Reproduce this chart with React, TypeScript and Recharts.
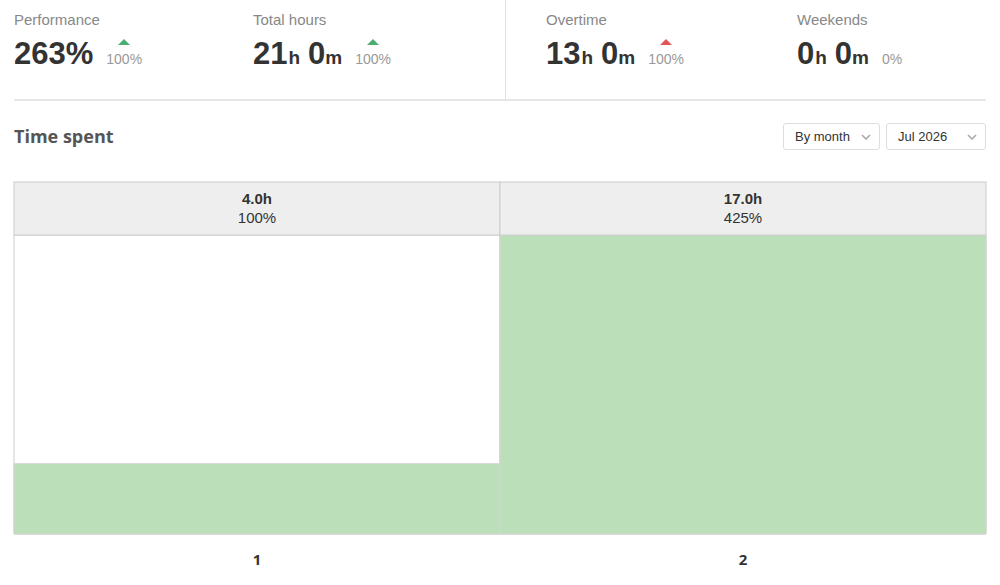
import * as React from "react"
import { BarChart, Bar, XAxis, YAxis } from "recharts"

// chart data
const days = ["1", "2"]
const hours = [4, 17]
const percents = [100, 425]

// summary stats
const statLabels = ["Performance", "Total hours", "Overtime", "Weekends"]
const statDeltas = ["100%", "100%", "100%", "0%"]
const statTrend = ["up", "up", "up-bad", "none"]

const CHART_W = 1000
const CHART_H = 415
const MARGIN = { top: 12, right: 14, bottom: 11, left: 14 }
const HEADER_H = 53
const BAND = (CHART_W - MARGIN.left - MARGIN.right) / days.length

const data = days.map((d, i) => ({ day: d, hours: hours[i], pct: percents[i] }))

const sans = "'Liberation Sans', Arial, sans-serif"

function HeaderTick(props: any) {
  const { x, payload } = props
  const row = data[payload.index] || data.find((r) => r.day === payload.value)
  return (
    <g>
      <rect x={x - BAND / 2} y={MARGIN.top} width={BAND} height={HEADER_H} fill="#eeeeee" stroke="#cccccc" />
      <text x={x} y={MARGIN.top + 22} textAnchor="middle" fontFamily={sans} fontSize={15} fontWeight="bold" fill="#333">
        {row.hours.toFixed(1)}h
      </text>
      <text x={x} y={MARGIN.top + 41} textAnchor="middle" fontFamily={sans} fontSize={15} fill="#333">
        {row.pct}%
      </text>
    </g>
  )
}

function DayTick(props: any) {
  const { x, payload } = props
  return (
    <text x={x} y={CHART_H - MARGIN.bottom - 9} textAnchor="middle" fontFamily="'Open Sans', sans-serif" fontSize={15} fontWeight="bold" fill="#333">
      {payload.value}
    </text>
  )
}

function Triangle({ color }: { color: string }) {
  return (
    <svg width={12} height={6} style={{ position: "absolute", left: "50%", top: -12, marginLeft: -6 }}>
      <polygon points="0,6 6,0 12,6" fill={color} />
    </svg>
  )
}

function Stat({ label, main, delta, trend, left }: any) {
  return (
    <div style={{ position: "absolute", left, top: 11, fontFamily: sans }}>
      <div style={{ fontSize: 15, color: "#888", lineHeight: "18px" }}>{label}</div>
      <div style={{ display: "flex", alignItems: "baseline", marginTop: 7, color: "#333", fontWeight: "bold", whiteSpace: "nowrap" }}>
        {main}
        <span style={{ position: "relative", fontSize: 14, color: "#999", fontWeight: "normal", marginLeft: 13 }}>
          {trend === "up" && <Triangle color="#4caf72" />}
          {trend === "up-bad" && <Triangle color="#e05555" />}
          {delta}
        </span>
      </div>
    </div>
  )
}

function HM({ h, m }: { h: number; m: number }) {
  return (
    <span>
      <span style={{ fontSize: 31 }}>{h}</span>
      <span style={{ fontSize: 19, marginLeft: 1 }}>h</span>
      <span style={{ fontSize: 31, marginLeft: 8 }}>{m}</span>
      <span style={{ fontSize: 19 }}>m</span>
    </span>
  )
}

function Select({ left, width, text }: any) {
  return (
    <div
      style={{
        position: "absolute",
        left,
        top: 123,
        width,
        height: 27,
        boxSizing: "border-box",
        border: "1px solid #dddddd",
        borderRadius: 3,
        fontFamily: sans,
        fontSize: 13,
        color: "#333",
        lineHeight: "25px",
        paddingLeft: 11,
      }}
    >
      {text}
      <svg width={10} height={6} style={{ position: "absolute", right: 8, top: 10 }}>
        <polyline points="1,1 5,5 9,1" fill="none" stroke="#aaa" strokeWidth={1.6} />
      </svg>
    </div>
  )
}

export default function App() {
  const mains = [
    <span style={{ fontSize: 31 }}>263%</span>,
    <HM h={21} m={0} />,
    <HM h={13} m={0} />,
    <HM h={0} m={0} />,
  ]
  const lefts = [14, 253, 546, 797]
  return (
    <div style={{ position: "absolute", left: 0, top: 0, width: 1000, height: 585, background: "#fff", overflow: "hidden" }}>
      {statLabels.map((l, i) => (
        <Stat key={l} label={l} main={mains[i]} delta={statDeltas[i]} trend={statTrend[i]} left={lefts[i]} />
      ))}
      <div style={{ position: "absolute", left: 505, top: 0, width: 1, height: 100, background: "#e2e2e2" }} />
      <div style={{ position: "absolute", left: 14, top: 99, width: 972, height: 2, background: "#e6e6e6" }} />
      <div style={{ position: "absolute", left: 14, top: 124, fontFamily: "'Open Sans', sans-serif", fontSize: 18, fontWeight: "bold", color: "#555" }}>
        Time spent
      </div>
      <Select left={783} width={97} text="By month" />
      <Select left={886} width={100} text="Jul 2026" />
      <div style={{ position: "absolute", left: 0, top: 170 }}>
        <BarChart width={CHART_W} height={CHART_H} data={data} margin={MARGIN} barCategoryGap={0} barGap={0}>
          <XAxis xAxisId="top" dataKey="day" orientation="top" height={HEADER_H} axisLine={false} tickLine={false} tick={<HeaderTick />} interval={0} />
          <XAxis dataKey="day" height={40} axisLine={false} tickLine={false} tick={<DayTick />} interval={0} />
          <YAxis hide domain={[0, 17]} />
          <Bar
            dataKey="hours"
            fill="#bbe0b9"
            stroke="#d4d4d4"
            strokeWidth={1}
            background={{ fill: "#ffffff", stroke: "#cccccc" }}
            isAnimationActive={false}
          />
        </BarChart>
      </div>
    </div>
  )
}
